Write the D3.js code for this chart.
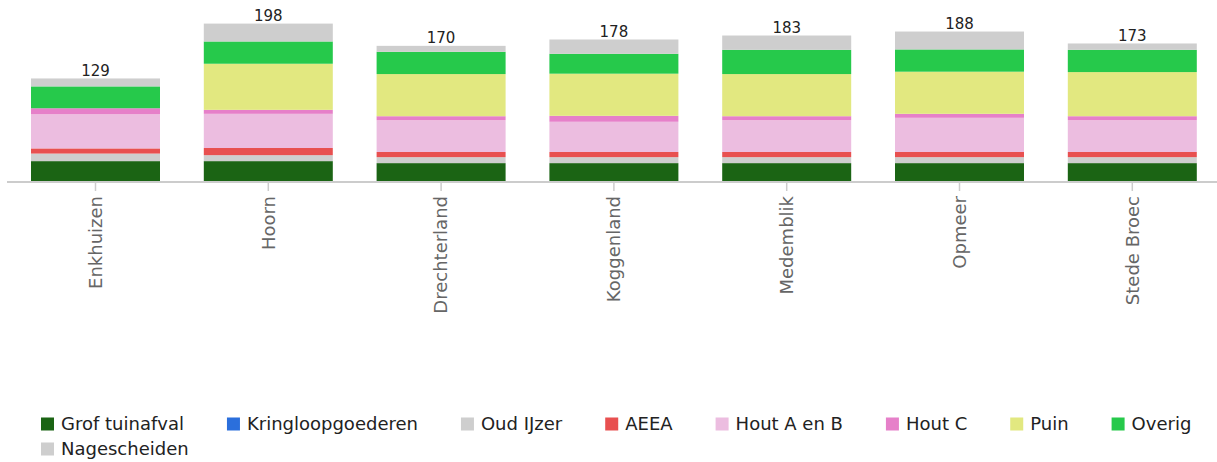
<!DOCTYPE html>
<html>
<head>
<meta charset="utf-8">
<script src="https://cdn.jsdelivr.net/npm/d3@7"></script>
<style>
  html, body { margin: 0; padding: 0; background: #fff; }
  svg { display: block; font-family: "DejaVu Sans", Verdana, sans-serif; }
</style>
</head>
<body>
<svg id="chart" width="1217" height="462"></svg>
<script>
// Municipalities along the x axis
const gemeenten = ["Enkhuizen", "Hoorn", "Drechterland", "Koggenland", "Medemblik", "Opmeer", "Stede Broec"];

// Waste streams, stacked bottom to top
const stromen = ["Grof tuinafval", "Kringloopgoederen", "Oud IJzer", "AEEA", "Hout A en B", "Hout C", "Puin", "Overig", "Nagescheiden"];
const kleuren = ["#1b6414", "#2b6fdc", "#cecece", "#e85050", "#ecbde0", "#e680c9", "#e2e880", "#26c94b", "#cecece"];

// kg per inhabitant, one array per stream (same order as gemeenten)
const grofTuinafval     = [25,   25,   22.5, 22.5, 22.5, 22.5, 22.5];
const kringloopgoederen = [0,    0,    0,    0,    0,    0,    0];
const oudIJzer          = [9.5,  7.5,  7.5,  7.5,  7.5,  7.5,  7.5];
const aeea              = [6.5,  9,    6.5,  6.5,  6.5,  6.5,  6.5];
const houtAenB          = [43,   43,   40,   38,   40,   43,   40];
const houtC             = [7.5,  5,    5,    7.5,  5,    5,    5];
const puin              = [0,    58,   53,   53,   53,   53,   55.5];
const overig            = [27.5, 28,   28,   25,   30.5, 28,   28];
const nagescheiden      = [10,   22.5, 7.5,  18,   18,   22.5, 8];

const reeksen = [grofTuinafval, kringloopgoederen, oudIJzer, aeea, houtAenB, houtC, puin, overig, nagescheiden];

// Row table for d3.stack
const rows = gemeenten.map((g, i) => {
  const r = { gemeente: g };
  stromen.forEach((s, k) => { r[s] = reeksen[k][i]; });
  return r;
});

const svg = d3.select("#chart");
const baseY = 181;

const x = d3.scaleBand()
  .domain(gemeenten)
  .range([9.1, 1218.7])
  .paddingInner(0.2535)
  .paddingOuter(0.12675);

const y = d3.scaleLinear()
  .domain([0, 200])
  .range([baseY, 22]);

const series = d3.stack().keys(stromen)(rows);

// Stacked segments
svg.append("g")
  .selectAll("g")
  .data(series)
  .join("g")
  .attr("fill", (d, i) => kleuren[i])
  .selectAll("rect")
  .data(d => d)
  .join("rect")
  .attr("x", d => x(d.data.gemeente))
  .attr("y", d => y(d[1]))
  .attr("width", x.bandwidth())
  .attr("height", d => Math.max(0, y(d[0]) - y(d[1])));

// Totals above each bar
svg.append("g")
  .selectAll("text")
  .data(rows)
  .join("text")
  .attr("x", d => x(d.gemeente) + x.bandwidth() / 2)
  .attr("y", d => y(d3.sum(stromen, s => d[s])) - 2.5)
  .attr("text-anchor", "middle")
  .attr("font-size", 15)
  .attr("fill", "#222")
  .text(d => Math.round(d3.sum(stromen, s => d[s])));

// X axis: ticks and rotated labels
const xAxis = svg.append("g")
  .attr("transform", `translate(0,${baseY + 2})`)
  .call(d3.axisBottom(x).tickSize(8).tickSizeOuter(0).tickPadding(8));
xAxis.select(".domain").remove();
xAxis.selectAll(".tick line").attr("stroke", "#cccccc").attr("stroke-width", 1.5);
xAxis.selectAll(".tick text")
  .attr("font-size", 18)
  .attr("font-family", "\"DejaVu Sans\", Verdana, sans-serif")
  .attr("fill", "#666")
  .attr("text-anchor", "end")
  .attr("dy", "0.35em")
  .attr("transform", "rotate(-90)")
  .attr("x", -13)
  .attr("y", 0);

// Axis baseline
svg.append("line")
  .attr("x1", 7).attr("x2", 1217)
  .attr("y1", baseY + 1).attr("y2", baseY + 1)
  .attr("stroke", "#cccccc")
  .attr("stroke-width", 2);

// Legend, flowing left to right and wrapping
const legend = svg.append("g");
const startX = 41, maxX = 1205, rowH = 25, firstY = 424;
let cx = startX, cy = firstY;
stromen.forEach((s, i) => {
  const item = legend.append("g");
  item.append("rect")
    .attr("width", 13).attr("height", 13)
    .attr("y", -6.5)
    .attr("fill", kleuren[i]);
  const t = item.append("text")
    .attr("x", 20)
    .attr("dy", "0.35em")
    .attr("font-size", 18)
    .attr("fill", "#222")
    .text(s);
  const w = 20 + t.node().getComputedTextLength();
  if (cx + w > maxX && cx > startX) { cx = startX; cy += rowH; }
  item.attr("transform", `translate(${cx},${cy})`);
  cx += w + 43;
});
</script>
</body>
</html>
